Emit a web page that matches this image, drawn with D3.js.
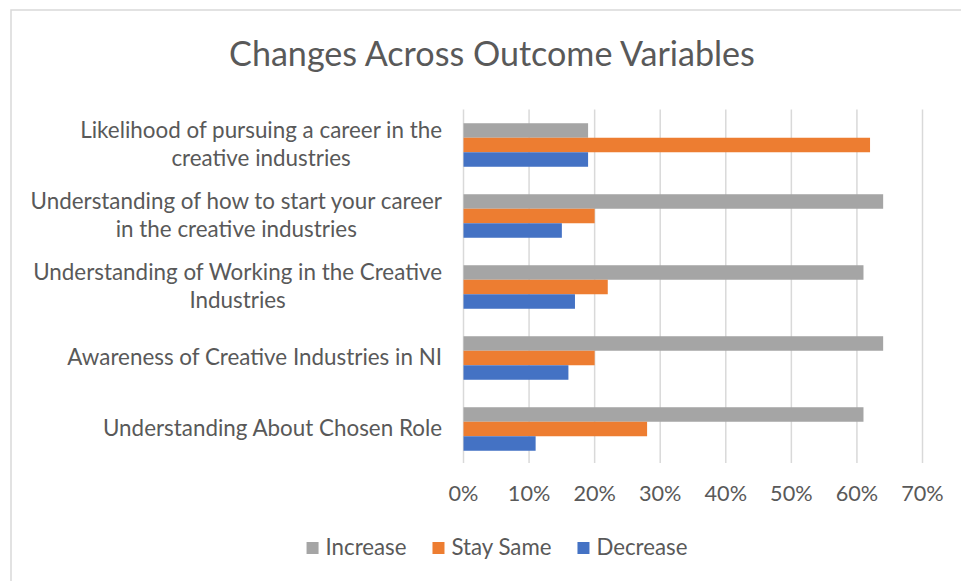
<!DOCTYPE html>
<html>
<head>
<meta charset="utf-8">
<script src="https://cdn.jsdelivr.net/npm/d3@7"></script>
<style>
  body { margin: 0; background: #fff; }
  svg { display: block; }
  text { font-family: Lato, "Open Sans", sans-serif; fill: #595959; }
</style>
</head>
<body>
<svg id="chart" width="961" height="581"></svg>
<script>
// Outcome variables, top to bottom; "\n" marks where a label wraps.
const categories = [
  "Likelihood of pursuing a career in the\ncreative industries",
  "Understanding of how to start your career\nin the creative industries",
  "Understanding of Working in the Creative\nIndustries",
  "Awareness of Creative Industries in NI",
  "Understanding About Chosen Role"
];

// Share of respondents (%) per outcome.
const increase = [19, 64, 61, 64, 61];
const staySame = [62, 20, 22, 20, 28];
const decrease = [19, 15, 17, 16, 11];

const seriesNames = ["Increase", "Stay Same", "Decrease"];
const seriesColors = ["#A5A5A5", "#ED7D31", "#4472C4"];
const seriesValues = [increase, staySame, decrease];

const tickValues = [0, 10, 20, 30, 40, 50, 60, 70];
const tickLabels = ["0%", "10%", "20%", "30%", "40%", "50%", "60%", "70%"];

const titleText = "Changes Across Outcome Variables";

const svg = d3.select("#chart");

// Width of a string at a given font size.
function textWidth(str, size) {
  const t = svg.append("text").style("font-size", size + "px").text(str);
  const w = t.node().getComputedTextLength();
  t.remove();
  return w;
}

// Size a font so a sample string spans the wanted width.
function fitSize(str, target) {
  return 100 * target / textWidth(str, 100);
}

const titleSize = fitSize(titleText, 526);
const labelSize = fitSize("Likelihood of pursuing a career in the", 362);
const tickSize = fitSize("70%", 42.5);
const legendSize = fitSize("Stay Same", 100);

// Chart frame
svg.append("rect")
  .attr("x", 11).attr("y", 10)
  .attr("width", 1000).attr("height", 1000)
  .attr("fill", "#fff")
  .attr("stroke", "#d9d9d9")
  .attr("stroke-width", 1.5);

// Title
svg.append("text")
  .attr("x", 492).attr("y", 66)
  .attr("text-anchor", "middle")
  .style("font-size", titleSize + "px")
  .text(titleText);

const x = d3.scaleLinear().domain([0, 70]).range([463.5, 922.5]);
const y = d3.scaleBand().domain(categories).range([109.5, 464.5])
  .paddingInner(0.387).paddingOuter(0.1935);
const ySub = d3.scaleBand().domain(seriesNames).range([0, y.bandwidth()]);

// Vertical gridlines
svg.append("g").selectAll("line")
  .data(tickValues)
  .join("line")
  .attr("x1", d => x(d)).attr("x2", d => x(d))
  .attr("y1", y.range()[0]).attr("y2", 463)
  .attr("stroke", "#d9d9d9")
  .attr("stroke-width", 1.5);

// Bars
const groups = svg.append("g").selectAll("g")
  .data(categories)
  .join("g")
  .attr("transform", d => `translate(0,${y(d)})`);

groups.selectAll("rect")
  .data((d, i) => seriesNames.map((s, k) => ({ series: s, value: seriesValues[k][i], color: seriesColors[k] })))
  .join("rect")
  .attr("x", x(0))
  .attr("y", d => ySub(d.series))
  .attr("width", d => x(d.value) - x(0))
  .attr("height", ySub.bandwidth())
  .attr("fill", d => d.color);

// Category labels: each block sits against the plot, its lines centred within it
const lineGap = 28;
const labelRight = 442;
svg.append("g").selectAll("text")
  .data(categories)
  .join("text")
  .attr("text-anchor", "middle")
  .style("font-size", labelSize + "px")
  .each(function (d) {
    const lines = d.split("\n");
    const blockW = d3.max(lines, l => textWidth(l, labelSize));
    const cx = labelRight - blockW / 2;
    const cy = y(d) + y.bandwidth() / 2;
    d3.select(this).selectAll("tspan")
      .data(lines)
      .join("tspan")
      .attr("x", cx)
      .attr("y", (l, i) => cy + 7 + (i - (lines.length - 1) / 2) * lineGap)
      .text(l => l);
  });

// X axis tick labels
svg.append("g").selectAll("text")
  .data(tickValues)
  .join("text")
  .attr("x", d => x(d))
  .attr("y", 501)
  .attr("text-anchor", "middle")
  .style("font-size", tickSize + "px")
  .text((d, i) => tickLabels[i]);

// Legend, centred below the plot
const legend = svg.append("g");
const sq = 12, sqGap = 7, itemGap = 26;
const widths = seriesNames.map(s => textWidth(s, legendSize));
const total = d3.sum(widths) + seriesNames.length * (sq + sqGap) + (seriesNames.length - 1) * itemGap;
let lx = 497 - total / 2;
seriesNames.forEach((s, k) => {
  legend.append("rect")
    .attr("x", lx).attr("y", 542)
    .attr("width", sq).attr("height", sq)
    .attr("fill", seriesColors[k]);
  legend.append("text")
    .attr("x", lx + sq + sqGap).attr("y", 555)
    .style("font-size", legendSize + "px")
    .text(s);
  lx += sq + sqGap + widths[k] + itemGap;
});
</script>
</body>
</html>
